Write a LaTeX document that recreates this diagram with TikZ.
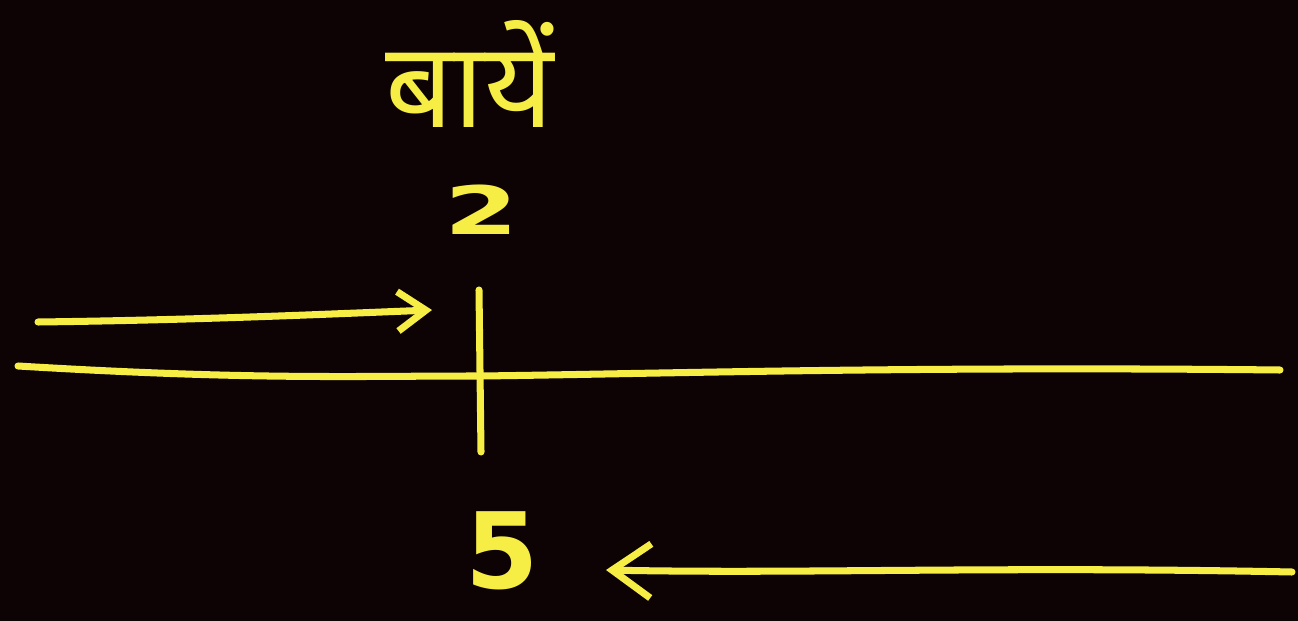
\documentclass[tikz,border=0pt]{standalone}
\usepackage{fontspec}
\newfontfamily\hindi[Script=Devanagari]{Noto Sans}
\newfontfamily\digits{DejaVu Sans}
\usetikzlibrary{arrows.meta}
\definecolor{board}{HTML}{0D0304}
\definecolor{chalk}{HTML}{F7EE45}
\tikzset{
  pen/.style={draw=chalk, line width=4pt, line cap=round, line join=round},
  flow/.style={pen, -{Straight Barb[length=#1, width=1.4*#1, line width=4pt]}},
  flow/.default=14pt,
  lbl/.style={text=chalk, inner sep=0pt},
}
\begin{document}
\begin{tikzpicture}[x=0.02cm, y=-0.02cm]
  \fill[board] (0,0) rectangle (1298,621);
  \useasboundingbox (0,0) rectangle (1298,621);
  % labels
  \node[lbl, font=\hindi\bfseries\fontsize{68}{68}\selectfont] (left) at (470,74) {बायें};
  \node[lbl, font=\digits\bfseries\fontsize{38}{38}\selectfont, xscale=1.6] (two) at (482,210) {2};
  \node[lbl, font=\digits\bfseries\fontsize{60}{60}\selectfont, anchor=base] (five) at (502,588) {5};
  % number line and mark
  \coordinate (l) at (18,366);
  \coordinate (r) at (1280,370);
  \coordinate (zero) at (480,376);
  \draw[pen] (l) .. controls (250,380) and (350,376) .. (zero)
    .. controls (650,374) and (900,366) .. (r);
  \coordinate (tt) at (479,290);
  \coordinate (tb) at (481,452);
  \draw[pen] (tt) -- (tb);
  % moves
  \coordinate (a1) at (38,322);
  \coordinate (a2) at (432,310);
  \draw[flow=16pt] (a1) .. controls (200,320) and (330,314) .. (a2);
  \coordinate (b1) at (1292,572);
  \coordinate (b2) at (606,570);
  \draw[flow=22pt] (b1) .. controls (1000,566) and (800,574) .. (b2);
\end{tikzpicture}
\end{document}
